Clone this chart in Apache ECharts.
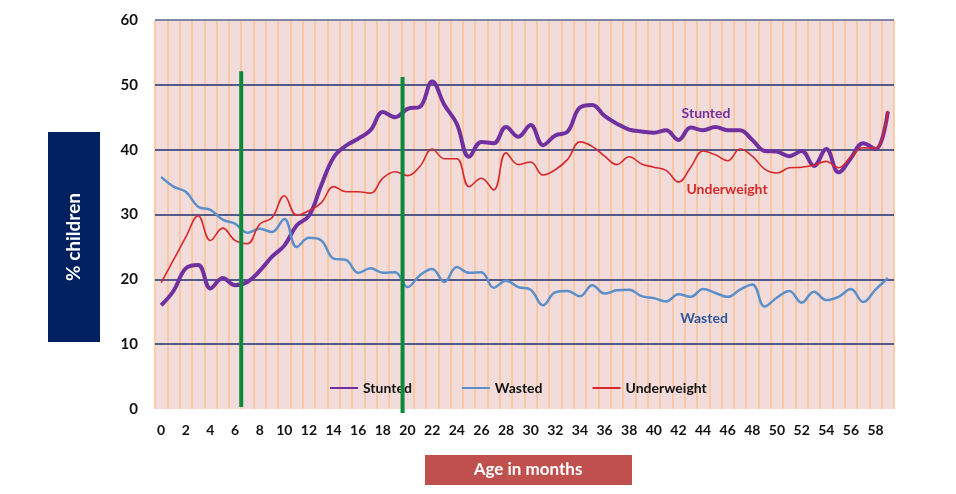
<!DOCTYPE html>
<html>
<head>
<meta charset="utf-8">
<script src="https://cdn.jsdelivr.net/npm/echarts@6/dist/echarts.min.js"></script>
<style>
  html, body { margin: 0; padding: 0; background: #fff; }
  #main { width: 956px; height: 494px; }
</style>
</head>
<body>
<div id="main"></div>
<script>
// age in months 0..59
var months = [];
for (var m = 0; m < 60; m++) months.push(String(m));

var stunted = [
  16.0, 18.2, 21.7, 22.2, 18.6, 20.2, 19.1, 19.6, 21.3, 23.5,
  25.2, 28.3, 29.8, 34.5, 38.8, 40.6, 41.7, 43.0, 45.8, 45.0,
  46.3, 46.6, 50.5, 46.9, 44.0, 38.9, 41.2, 41.0, 43.5, 42.0,
  43.8, 40.7, 42.2, 42.8, 46.5, 46.9, 45.2, 44.0, 43.1, 42.8,
  42.6, 43.0, 41.5, 43.4, 43.0, 43.5, 43.0, 43.0, 41.5, 39.8,
  39.7, 39.0, 39.8, 37.5, 40.1, 36.5, 38.7, 41.0, 40.1, 45.9
];
var wasted = [
  35.8, 34.3, 33.5, 31.2, 30.7, 29.2, 28.6, 27.2, 27.8, 27.3,
  29.3, 25.0, 26.4, 26.0, 23.2, 23.0, 21.0, 21.7, 21.0, 21.1,
  18.8, 20.6, 21.6, 19.6, 21.9, 21.0, 21.1, 18.7, 19.8, 18.8,
  18.4, 16.0, 18.0, 18.2, 17.4, 19.1, 17.8, 18.3, 18.4, 17.4,
  17.1, 16.6, 17.7, 17.3, 18.5, 17.9, 17.3, 18.4, 19.2, 15.8,
  17.2, 18.2, 16.4, 18.1, 16.8, 17.3, 18.5, 16.5, 18.4, 20.2
];
var underweight = [
  19.5, 23.0, 26.5, 29.8, 26.0, 27.9, 26.0, 25.5, 28.5, 29.5,
  32.9, 29.9, 30.6, 31.8, 34.3, 33.5, 33.5, 33.3, 35.6, 36.6,
  36.0, 37.4, 40.1, 38.6, 38.6, 34.3, 35.6, 33.8, 39.5, 37.7,
  38.1, 36.1, 36.9, 38.5, 41.2, 40.5, 39.0, 37.7, 38.9, 37.8,
  37.3, 36.8, 35.0, 37.3, 39.8, 39.2, 38.3, 40.1, 39.0, 37.0,
  36.4, 37.2, 37.3, 37.6, 38.2, 37.2, 38.9, 40.3, 40.2, 46.0
];
// green reference lines [age, percent]
var cutoffA = [[6.5, 0.3], [6.5, 52.1]];
var cutoffB = [[19.6, -0.6], [19.6, 51.2]];

var font = 'Lato, "Open Sans", sans-serif';
var chart = echarts.init(document.getElementById('main'));

var option = {
  animation: false,
  backgroundColor: '#ffffff',
  grid: {
    left: 155, right: 62, top: 20, bottom: 85,
    show: true, backgroundColor: '#f2dcdb', borderWidth: 0
  },
  legend: {
    data: ['Stunted', 'Wasted', 'Underweight'],
    left: 324, top: 376,
    itemWidth: 28, itemHeight: 12, itemGap: 49,
    itemStyle: { opacity: 0 },
    textStyle: { fontFamily: font, fontWeight: 'bold', fontSize: 14, color: '#111' }
  },
  xAxis: [
    {
      type: 'category',
      data: months,
      boundaryGap: true,
      z: 0,
      axisLine: { show: false },
      axisTick: { show: false },
      axisLabel: {
        interval: 1, margin: 14,
        fontFamily: font, fontWeight: 'bold', fontSize: 14, color: '#111'
      },
      splitLine: { show: true, interval: 0, lineStyle: { color: '#fbc396', width: 1.6, type: 'solid' } }
    },
    {
      type: 'value', min: -0.5, max: 59.5, show: false
    }
  ],
  yAxis: {
    type: 'value', min: 0, max: 60, interval: 10,
    z: 1,
    axisLine: { show: false },
    axisTick: { show: false },
    axisLabel: {
      margin: 17, fontFamily: font, fontWeight: 'bold', fontSize: 15, color: '#111'
    },
    splitLine: {
      lineStyle: {
        color: ['transparent', '#1f3070', '#1f3070', '#1f3070', '#1f3070', '#1f3070', '#5b6591'],
        width: 1.6, type: 'solid'
      }
    }
  },
  graphic: [
    { type: 'rect', shape: { x: 48, y: 132, width: 52, height: 210 }, style: { fill: '#002060' } },
    { type: 'text', x: 74, y: 237, rotation: Math.PI / 2,
      style: { text: '% children', fill: '#fff', font: 'bold 19px ' + font, align: 'center', verticalAlign: 'middle' } },
    { type: 'rect', shape: { x: 425, y: 455, width: 207, height: 30 }, style: { fill: '#c0504d' } },
    { type: 'text', x: 528, y: 470,
      style: { text: 'Age in months', fill: '#fff', font: 'bold 17px ' + font, align: 'center', verticalAlign: 'middle' } },
    { type: 'text', x: 706, y: 113, z: 10,
      style: { text: 'Stunted', fill: '#7030a0', font: 'bold 14px ' + font, align: 'center', verticalAlign: 'middle' } },
    { type: 'text', x: 727, y: 189, z: 10,
      style: { text: 'Underweight', fill: '#d42a2a', font: 'bold 14px ' + font, align: 'center', verticalAlign: 'middle' } },
    { type: 'text', x: 704, y: 318, z: 10,
      style: { text: 'Wasted', fill: '#2f5597', font: 'bold 14px ' + font, align: 'center', verticalAlign: 'middle' } }
  ],
  series: [
    {
      name: 'Stunted', type: 'line', data: stunted, smooth: 0.4, symbol: 'none',
      lineStyle: { color: '#7030a0', width: 4 }, itemStyle: { color: '#7030a0' }
    },
    {
      name: 'Wasted', type: 'line', data: wasted, smooth: 0.4, symbol: 'none',
      lineStyle: { color: '#5b8fc9', width: 2.5 }, itemStyle: { color: '#5b8fc9' }
    },
    {
      name: 'Underweight', type: 'line', data: underweight, smooth: 0.4, symbol: 'none',
      lineStyle: { color: '#d9262b', width: 1.6 }, itemStyle: { color: '#d9262b' }
    },
    {
      name: 'cutA', type: 'line', xAxisIndex: 1, data: cutoffA, symbol: 'none', clip: false, z: 5,
      lineStyle: { color: '#0a8a3a', width: 4 }
    },
    {
      name: 'cutB', type: 'line', xAxisIndex: 1, data: cutoffB, symbol: 'none', clip: false, z: 5,
      lineStyle: { color: '#0a8a3a', width: 4 }
    }
  ]
};

chart.setOption(option);
</script>
</body>
</html>
